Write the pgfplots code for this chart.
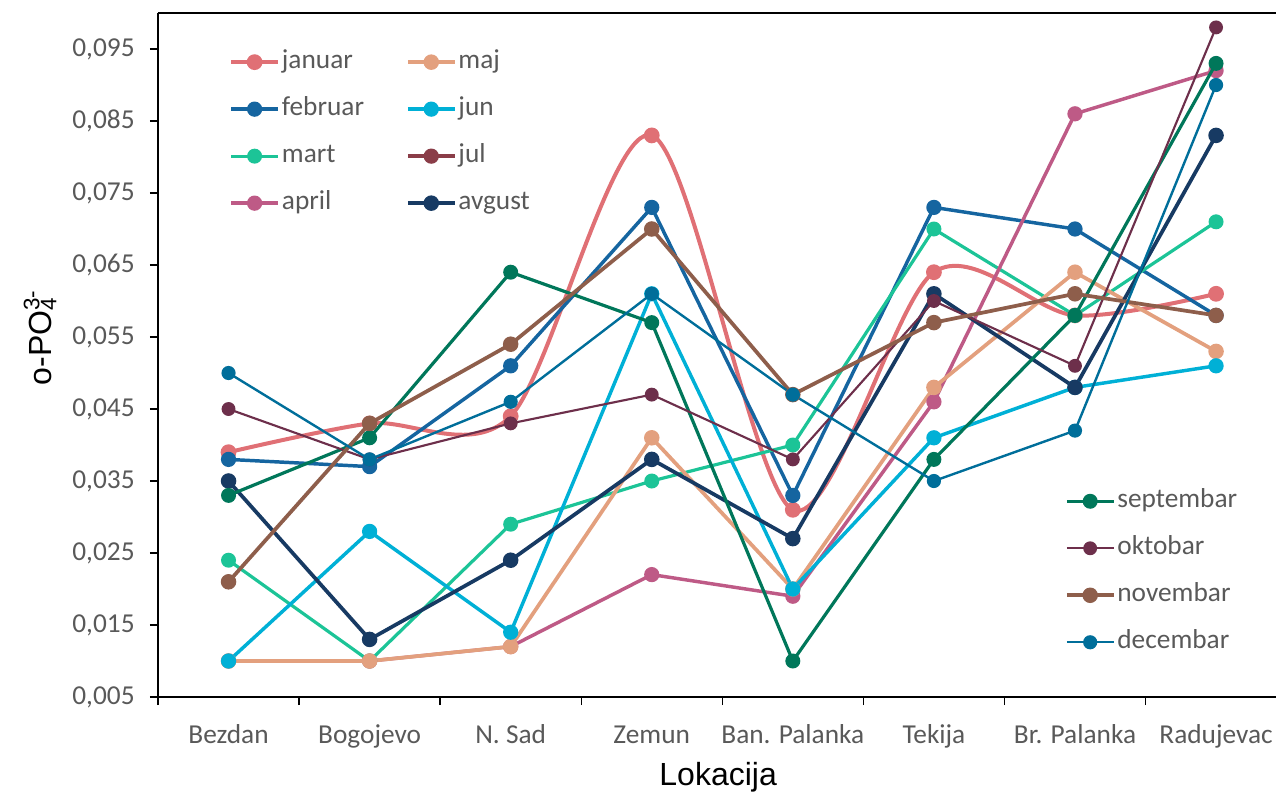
\documentclass[border=0pt]{standalone}
\usepackage{fontspec}
\setmainfont{Carlito}
\newfontfamily\arialf{Liberation Sans}
\usepackage{pgfplots}
\pgfplotsset{compat=1.18}
\definecolor{cjan}{RGB}{224,112,117}
\definecolor{cfeb}{RGB}{21,101,160}
\definecolor{cmar}{RGB}{28,196,151}
\definecolor{capr}{RGB}{190,90,134}
\definecolor{cmaj}{RGB}{227,160,126}
\definecolor{cjun}{RGB}{0,176,214}
\definecolor{cjul}{RGB}{138,61,72}
\definecolor{cavg}{RGB}{23,58,99}
\definecolor{csep}{RGB}{0,119,90}
\definecolor{cokt}{RGB}{109,47,75}
\definecolor{cnov}{RGB}{142,94,75}
\definecolor{cdec}{RGB}{0,110,154}
\definecolor{tgray}{RGB}{89,89,89}

\pgfplotstableread{
x januar februar mart april maj jun avgust septembar oktobar novembar decembar
0 0.039 0.038 0.024 0.010 0.010 0.010 0.035 0.033 0.045 0.021 0.050
1 0.043 0.037 0.010 0.010 0.010 0.028 0.013 0.041 0.038 0.043 0.038
2 0.044 0.051 0.029 0.012 0.012 0.014 0.024 0.064 0.043 0.054 0.046
3 0.083 0.073 0.035 0.022 0.041 0.061 0.038 0.057 0.047 0.070 0.061
4 0.031 0.033 0.040 0.019 0.020 0.020 0.027 0.010 0.038 0.047 0.047
5 0.064 0.073 0.070 0.046 0.048 0.041 0.061 0.038 0.060 0.057 0.035
6 0.058 0.070 0.058 0.086 0.064 0.048 0.048 0.058 0.051 0.061 0.042
7 0.061 0.058 0.071 0.092 0.053 0.051 0.083 0.093 0.098 0.058 0.090
}\data

\begin{document}
\begin{tikzpicture}
\pgfplotsset{
  base/.style={
    scale only axis, width=838.5pt, height=513pt,
    at={(0,0)}, anchor=south west,
    xmin=-0.5, xmax=7.425, ymin=0.005, ymax=0.1,
    legend image code/.code={\draw[mark repeat=2,mark phase=2] plot coordinates {(0pt,0pt)(17.5pt,0pt)(35pt,0pt)};},
    legend style={draw=none, fill=none, inner sep=0pt, row sep=14.25pt,
      font=\fontsize{20.5}{23}\selectfont, text=tgray,
      nodes={inner sep=1.5pt, text height=14pt, text depth=4pt},
      /tikz/every even column/.append style={column sep=30pt}},
    legend cell align=left,
  },
  ms/.style={color=#1, mark=*, mark size=4.4pt, mark options={solid, draw=none, fill=#1}},
}
\begin{axis}[base,
  axis x line=box, axis y line=left,
  every outer x axis line/.append style={-},
  every outer y axis line/.append style={-},
  every inner x axis line/.append style={-},
  axis line style={-, line width=1.5pt, black},
  xtick pos=left, ytick pos=left,
  tick align=outside,
  major tick length=6pt, minor tick length=6pt,
  tick style={black, line width=1pt},
  major x tick style={draw=none},
  xtick={0,1,2,3,4,5,6,7},
  xticklabels={Bezdan,Bogojevo,N. Sad,Zemun,Ban. Palanka,Tekija,Br. Palanka,Radujevac},
  minor xtick={-0.5,0.5,1.5,2.5,3.5,4.5,5.5,6.5},
  ytick={0.005,0.015,0.025,0.035,0.045,0.055,0.065,0.075,0.085,0.095},
  yticklabels={{0,005},{0,015},{0,025},{0,035},{0,045},{0,055},{0,065},{0,075},{0,085},{0,095}},
  ticklabel style={font=\fontsize{20.5}{23}\selectfont, text=tgray},
  yticklabel style={xshift=-8pt},
  xticklabel style={yshift=-11pt, text height=14pt, text depth=4pt},
  xlabel={\arialf Lokacija},
  ylabel={\arialf o-PO\rlap{\textsuperscript{3-}}\textsubscript{4}},
  label style={font=\fontsize{24}{28}\selectfont, text=black},
  xlabel style={at={(axis description cs:0.501,-0.117)}, anchor=center},
  ylabel style={at={(axis description cs:-0.1055,0.52)}, anchor=center},
  legend columns=2,
  legend style={at={(axis description cs:0.0635,0.949)}, anchor=north west},
]
\addlegendimage{ms=cjan, line width=3pt}\addlegendentry{januar}
\addlegendimage{ms=cmaj, line width=2.8pt}\addlegendentry{maj}
\addlegendimage{ms=cfeb, line width=2.6pt}\addlegendentry{februar}
\addlegendimage{ms=cjun, line width=2.6pt}\addlegendentry{jun}
\addlegendimage{ms=cmar, line width=2.4pt}\addlegendentry{mart}
\addlegendimage{ms=cjul, line width=2.6pt}\addlegendentry{jul}
\addlegendimage{ms=capr, line width=2.6pt}\addlegendentry{april}
\addlegendimage{ms=cavg, line width=2.8pt}\addlegendentry{avgust}
\addplot[ms=cjan, line width=3pt, smooth, forget plot] table[x=x, y=januar]{\data};
\addplot[ms=cfeb, line width=2.6pt, forget plot] table[x=x, y=februar]{\data};
\addplot[ms=cmar, line width=2.4pt, forget plot] table[x=x, y=mart]{\data};
\addplot[ms=capr, line width=2.6pt, forget plot] table[x=x, y=april]{\data};
\addplot[ms=cmaj, line width=2.8pt, forget plot] table[x=x, y=maj]{\data};
\addplot[ms=cjun, line width=2.6pt, forget plot] table[x=x, y=jun]{\data};
\addplot[ms=cavg, line width=2.8pt, forget plot] table[x=x, y=avgust]{\data};
\end{axis}
\begin{axis}[base, hide axis,
  legend style={at={(axis description cs:0.811,0.307)}, anchor=north west},
]
\addplot[ms=csep, line width=2.4pt] table[x=x, y=septembar]{\data};
\addlegendentry{septembar}
\addplot[ms=cokt, line width=1.6pt] table[x=x, y=oktobar]{\data};
\addlegendentry{oktobar}
\addplot[ms=cnov, line width=2.8pt] table[x=x, y=novembar]{\data};
\addlegendentry{novembar}
\addplot[ms=cdec, line width=1.8pt] table[x=x, y=decembar]{\data};
\addlegendentry{decembar}
\end{axis}
\pgfresetboundingbox
\useasboundingbox (-118.5pt,-72.75pt) rectangle (838.5pt,522.75pt);
\end{tikzpicture}
\end{document}
